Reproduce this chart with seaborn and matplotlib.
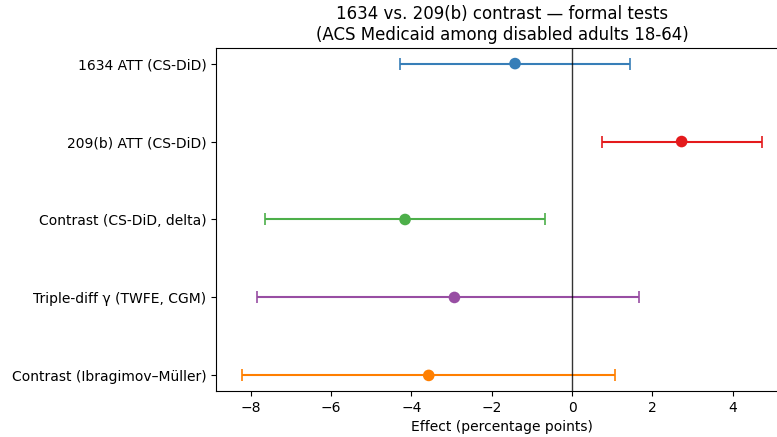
import matplotlib
matplotlib.use("Agg")
import matplotlib.pyplot as plt
import seaborn as sns
import pandas as pd

labels = ["1634 ATT (CS-DiD)", "209(b) ATT (CS-DiD)", "Contrast (CS-DiD, delta)",
          "Triple-diff γ (TWFE, CGM)", "Contrast (Ibragimov–Müller)"]
estimates = [-1.42, 2.73, -4.16, -2.93, -3.57]
ci_low = [-4.29, 0.75, -7.64, -7.86, -8.21]
ci_high = [1.45, 4.73, -0.67, 1.67, 1.07]
colors = ["#377eb8", "#e41a1c", "#4daf4a", "#984ea3", "#ff7f00"]

df = pd.DataFrame({"label": labels, "est": estimates, "lo": ci_low, "hi": ci_high,
                   "pos": range(len(labels))})

fig = plt.figure(figsize=(7.77, 4.37), dpi=100)
ax = fig.add_axes([216 / 777, 1 - 391 / 437, (788 - 216) / 777, (391 - 48) / 437])

for i, row in df.iterrows():
    ax.errorbar(row["est"], row["pos"],
                xerr=[[row["est"] - row["lo"]], [row["hi"] - row["est"]]],
                fmt="none", ecolor=colors[i], elinewidth=1.5, capsize=4, capthick=1.2,
                zorder=2)

sns.scatterplot(data=df, x="est", y="pos", hue="label", palette=colors, s=70,
                edgecolor="none", legend=False, ax=ax, zorder=4)

ax.axvline(0, color="black", lw=1, alpha=0.8, zorder=3)

ax.set_yticks(df["pos"])
ax.set_yticklabels(labels)
ax.set_xlim(-8.87, 5.38)
ax.set_ylim(4.2, -0.2)
ax.set_xticks([-8, -6, -4, -2, 0, 2, 4])
ax.set_xlabel("Effect (percentage points)")
ax.set_ylabel("")
ax.set_title("1634 vs. 209(b) contrast — formal tests\n(ACS Medicaid among disabled adults 18-64)",
             fontsize=12)

fig.savefig("out.png", dpi=100)
